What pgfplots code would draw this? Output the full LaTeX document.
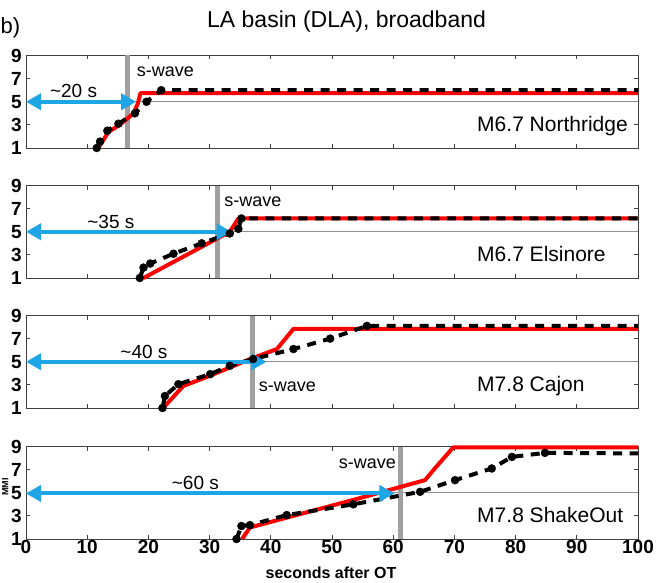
\documentclass[border=0pt]{standalone}
\usepackage{fontspec}
\setmainfont{Liberation Sans}
\usepackage{pgfplots}
\pgfplotsset{compat=1.18}
\usetikzlibrary{arrows.meta}
\definecolor{arrowblue}{HTML}{1EA5E6}
\definecolor{swgray}{HTML}{A0A0A0}
\definecolor{hgray}{HTML}{909090}
\definecolor{axgray}{HTML}{404040}
\pgfplotsset{
  panel/.style={
    scale only axis, width=612pt, height=92.5pt,
    anchor=south west,
    xmin=0, xmax=100, ymin=1, ymax=9,
    xtick={0,10,...,100}, ytick={1,3,5,7,9},
    tick align=inside, major tick length=4pt,
    axis line style={axgray, line width=0.9pt},
    tick style={axgray, line width=0.9pt},
    tick label style={font=\fontsize{19}{19}\selectfont\bfseries},
    /pgf/number format/assume math mode=true,
    xticklabel style={inner sep=1pt},
    yticklabel style={inner sep=2pt, xshift=-2pt},
    clip=false,
  },
  hline/.style={hgray, line width=1.3pt, forget plot},
  swline/.style={swgray, line width=4.5pt},
  redline/.style={red, line width=4pt, line join=round},
  blackline/.style={black, line width=4pt, dash pattern=on 9pt off 7.5pt, line join=round,
     mark=*, mark size=4pt, mark options={solid, fill=black, line width=0.4pt}},
  bluearrow/.style={arrowblue, line width=4pt, {Triangle[length=15pt,width=16pt]}-{Triangle[length=15pt,width=16pt]}},
}
\tikzset{
  swlabel/.style={anchor=base west, inner sep=0pt, font=\fontsize{18}{18}\selectfont},
  arrlabel/.style={anchor=base west, inner sep=0pt, font=\fontsize{19}{19}\selectfont},
  evlabel/.style={anchor=base west, inner sep=0pt, font=\fontsize{21}{21}\selectfont},
}
\begin{document}
\begin{tikzpicture}[x=1pt,y=1pt]
\useasboundingbox (0,0) rectangle (670,-582);
\node[anchor=base west, inner sep=0pt, font=\fontsize{23}{23}\selectfont] at (207,-27) {LA basin (DLA), broadband};
\node[anchor=base west, inner sep=0pt, font=\fontsize{22}{22}\selectfont] at (0.5,-33) {b)};
\node[anchor=base, inner sep=0pt, font=\fontsize{16}{16}\selectfont\bfseries] at (331,-578) {seconds after OT};
\node[rotate=90, anchor=base, inner sep=0pt, font=\fontsize{9}{9}\selectfont\bfseries] at (8.5,-487) {MMI};

% Panel 1: Northridge
\begin{axis}[panel, at={(26pt,-148pt)}, xticklabels={}]
\addplot[hline] coordinates {(0,5) (100,5)};
\addplot[swline] coordinates {(16.6,1) (16.6,9)};
\addplot[redline] coordinates {(11.8,1.0) (13.5,2.4) (15.3,3.0) (17.6,4.0) (18.3,4.9) (18.7,5.75) (100,5.75)};
\addplot[blackline, mark indices={1,2,3,4,5,6,7}] coordinates {(11.55,1.0) (12.1,1.55) (13.3,2.5) (15.1,3.1) (17.8,4.0) (19.7,5.0) (22.1,6.0) (100,6.0)};
\addplot[bluearrow] coordinates {(0,5) (18.0,5)};
\node[swlabel] at (axis cs:18.1,7.17) {s-wave};
\node[arrlabel] at (axis cs:3.9,5.35) {\textasciitilde 20 s};
\node[evlabel] at (axis cs:73.7,2.4) {M6.7 Northridge};
\end{axis}

% Panel 2: Elsinore
\begin{axis}[panel, at={(26pt,-278pt)}, xticklabels={}]
\addplot[hline] coordinates {(0,5) (100,5)};
\addplot[swline] coordinates {(31.3,1) (31.3,9)};
\addplot[redline] coordinates {(19.2,1.0) (33.3,5.0) (34.7,6.15) (100,6.15)};
\addplot[blackline, mark indices={1,2,3,4,5,6,7,8}] coordinates {(18.6,1.0) (19.2,1.9) (20.3,2.25) (24.1,3.1) (28.7,4.0) (33.3,4.85) (34.7,5.25) (35.2,6.15) (100,6.15)};
\addplot[bluearrow] coordinates {(0,5) (33.6,5)};
\node[swlabel] at (axis cs:32.4,7.15) {s-wave};
\node[arrlabel] at (axis cs:10.0,5.28) {\textasciitilde 35 s};
\node[evlabel] at (axis cs:73.7,2.4) {M6.7 Elsinore};
\end{axis}

% Panel 3: Cajon
\begin{axis}[panel, at={(26pt,-408pt)}, xticklabels={}]
\addplot[hline] coordinates {(0,5) (100,5)};
\addplot[swline] coordinates {(37.0,1) (37.0,9)};
\addplot[redline] coordinates {(22.4,1.0) (25.7,2.9) (30.1,3.8) (36.6,5.23) (41.0,6.1) (43.7,7.84) (100,7.84)};
\addplot[blackline, mark indices={1,2,3,4,5,6,7,8,9}] coordinates {(22.3,1.0) (22.7,2.04) (24.9,3.06) (30.1,3.93) (33.3,4.65) (37.1,5.23) (43.7,6.1) (49.7,7.0) (55.7,8.1) (100,8.1)};
\addplot[bluearrow] coordinates {(0,5) (39.3,5)};
\node[swlabel] at (axis cs:38.0,2.42) {s-wave};
\node[arrlabel] at (axis cs:15.4,5.32) {\textasciitilde 40 s};
\node[evlabel] at (axis cs:73.7,2.4) {M7.8 Cajon};
\end{axis}

% Panel 4: ShakeOut
\begin{axis}[panel, at={(26pt,-539pt)}]
\addplot[hline] coordinates {(0,5) (100,5)};
\addplot[swline] coordinates {(61.2,1) (61.2,9)};
\addplot[redline] coordinates {(35.3,1.0) (36.6,2.0) (54.3,4.5) (65.2,6.09) (66.8,7.1) (69.8,8.92) (100,8.92)};
\addplot[blackline, mark indices={1,2,3,4,5,6,7,8,9,10}] coordinates {(34.4,1.0) (35.2,2.12) (36.6,2.2) (42.6,3.07) (53.5,4.0) (64.4,5.08) (70.1,6.09) (76.1,7.1) (79.4,8.1) (84.8,8.45) (100,8.4)};
\addplot[bluearrow] coordinates {(0,4.94) (60.2,4.94)};
\node[swlabel] at (axis cs:51.1,7.1) {s-wave};
\node[arrlabel] at (axis cs:23.8,5.28) {\textasciitilde 60 s};
\node[evlabel] at (axis cs:73.7,2.4) {M7.8 ShakeOut};
\end{axis}
\end{tikzpicture}
\end{document}
